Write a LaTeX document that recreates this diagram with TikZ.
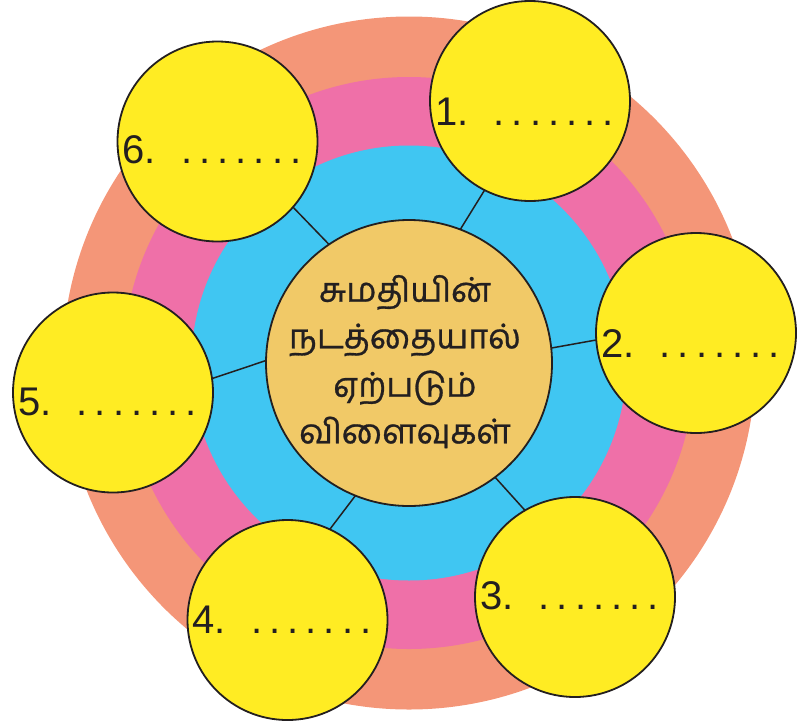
\documentclass[tikz,border=0pt]{standalone}
\usepackage{fontspec}
\setmainfont{Liberation Sans}
\newfontfamily\tamilfont[Script=Tamil,FakeBold=0.8]{Hind Madurai}
\definecolor{ringA}{HTML}{F49678}
\definecolor{ringB}{HTML}{EF70A8}
\definecolor{ringC}{HTML}{40C6F2}
\definecolor{goldfill}{HTML}{F1C967}
\definecolor{yelfill}{HTML}{FFEC23}
\definecolor{ink}{HTML}{231F20}
\newcommand\blankline[1]{#1.\kern25pt.\kern7.1pt.\kern7.1pt.\kern7.1pt.\kern7.1pt.\kern7.1pt.\kern7.1pt.}
\begin{document}
\begin{tikzpicture}[x=1pt,y=-1pt,
  yel/.style={circle,draw=ink,line width=1.8pt,fill=yelfill,minimum size=200pt,inner sep=0pt,outer sep=0pt},
  ctr/.style={circle,draw=ink,line width=1.8pt,fill=goldfill,minimum size=286pt,inner sep=0pt,outer sep=0pt},
  link/.style={draw=ink,line width=1.5pt},
  num/.style={anchor=base west,inner sep=0pt,text=ink,font=\fontsize{40}{40}\selectfont},
  tam/.style={anchor=base,inner sep=0pt,text=ink,font=\tamilfont\fontsize{34}{34}\selectfont}]
\useasboundingbox (0,0) rectangle (799,723);
\fill[ringA] (409,363) circle (346.5pt);
\fill[ringB] (409,363) circle (286pt);
\fill[ringC] (409,363) circle (217.5pt);
\node[ctr] (c) at (409,363) {};
\node[yel] (y1) at (530,101) {};
\node[yel] (y2) at (696,333) {};
\node[yel] (y3) at (575,597) {};
\node[yel] (y4) at (287.5,620) {};
\node[yel] (y5) at (113,392.5) {};
\node[yel] (y6) at (217.5,141.5) {};
\draw[link] (c.69.5) -- (y1.243);
\draw[link] (c.6.9) -- (y2.184);
\draw[link] (c.307) -- (y3.120.5);
\draw[link] (c.248) -- (y4.65);
\draw[link] (c.179) -- (y5.8);
\draw[link] (c.124.7) -- (y6.319);
\node[num] (n1) at ([shift={(-95,24)}]y1.center) {\blankline{1}};
\node[num] (n2) at ([shift={(-95,24)}]y2.center) {\blankline{2}};
\node[num] (n3) at ([shift={(-95,12.5)}]y3.center) {\blankline{3}};
\node[num] (n4) at ([shift={(-95,13)}]y4.center) {\blankline{4}};
\node[num] (n5) at ([shift={(-95,22.5)}]y5.center) {\blankline{5}};
\node[num] (n6) at ([shift={(-95,21.5)}]y6.center) {\blankline{6}};
\node[tam] (t1) at (405,301.7) {சுமதியின்};
\node[tam] (t2) at (405,348.3) {நடத்தையால்};
\node[tam] (t3) at (405,396.7) {ஏற்படும்};
\node[tam] (t4) at (405,443.3) {விளைவுகள்};
\end{tikzpicture}
\end{document}
